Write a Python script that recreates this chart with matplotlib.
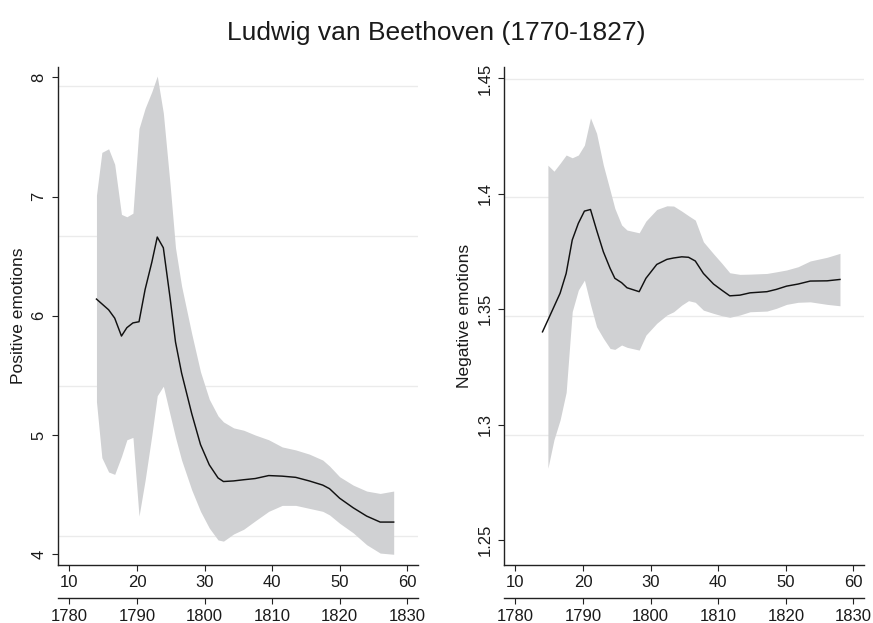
import numpy as np
import matplotlib
matplotlib.use("Agg")
import matplotlib.pyplot as plt

plt.rcParams['font.family'] = ['Liberation Sans', 'DejaVu Sans']

title = "Ludwig van Beethoven (1770-1827)"
birth_year = 1770

# ---- Positive emotions panel ----
pos_age = [14.0, 14.8, 15.8, 16.7, 17.7, 18.5, 19.4, 20.3, 21.2, 22.2, 23.0, 23.9,
           24.9, 25.7, 26.6, 28.1, 29.4, 30.7, 32.0, 32.8, 34.3, 35.8, 37.5, 39.5,
           41.5, 43.5, 45.5, 47.5, 48.5, 50.0, 52.0, 54.0, 56.0, 58.0]
pos_mean = [6.14, 6.10, 6.05, 5.98, 5.83, 5.90, 5.94, 5.95, 6.22, 6.45, 6.66, 6.57,
            6.15, 5.78, 5.52, 5.18, 4.92, 4.75, 4.64, 4.61, 4.615, 4.625, 4.635, 4.66,
            4.655, 4.645, 4.615, 4.58, 4.55, 4.47, 4.39, 4.32, 4.27, 4.27]
pos_upper = [7.01, 7.37, 7.40, 7.27, 6.85, 6.83, 6.86, 7.57, 7.74, 7.88, 8.01, 7.70,
             7.10, 6.57, 6.25, 5.85, 5.53, 5.30, 5.16, 5.11, 5.06, 5.04, 5.00, 4.96,
             4.90, 4.875, 4.84, 4.79, 4.74, 4.65, 4.58, 4.53, 4.51, 4.53]
pos_lower = [5.28, 4.81, 4.69, 4.67, 4.82, 4.96, 4.98, 4.32, 4.62, 5.00, 5.33, 5.41,
             5.17, 4.98, 4.79, 4.54, 4.36, 4.22, 4.12, 4.11, 4.17, 4.21, 4.28, 4.36,
             4.41, 4.41, 4.385, 4.36, 4.33, 4.26, 4.18, 4.08, 4.01, 4.00]
pos_yticks = [4, 5, 6, 7, 8]
pos_grid = [7.93, 6.673, 5.41, 4.15]

# ---- Negative emotions panel ----
neg_age = [14.0, 14.8, 15.7, 16.6, 17.5, 18.4, 19.3, 20.2, 21.1, 22.0, 23.0, 24.0,
           24.7, 25.7, 26.5, 28.3, 29.3, 30.9, 32.4, 33.4, 34.6, 35.6, 36.6, 37.8,
           39.3, 40.5, 41.7, 43.2, 44.7, 47.2, 48.6, 50.1, 51.8, 53.6, 56.1, 58.0]
neg_mean = [1.3402, 1.3453, 1.3511, 1.3569, 1.3655, 1.3800, 1.3872, 1.3925, 1.3932,
            1.3843, 1.3749, 1.3677, 1.3634, 1.3615, 1.3593, 1.3576, 1.3634, 1.3694,
            1.3716, 1.3722, 1.3727, 1.3725, 1.3709, 1.3655, 1.3609, 1.3583, 1.3558,
            1.3561, 1.3571, 1.3576, 1.3586, 1.3600, 1.3609, 1.3622, 1.3623, 1.3629]
neg_upper = [np.nan, 1.4124, 1.4098, 1.4132, 1.4168, 1.4156, 1.4168, 1.4211, 1.4329,
             1.4262, 1.4124, 1.4015, 1.3937, 1.3865, 1.3843, 1.3831, 1.3882, 1.3932,
             1.3948, 1.3947, 1.3925, 1.3905, 1.3886, 1.3792, 1.3740, 1.3700, 1.3658,
             1.3651, 1.3652, 1.3655, 1.3662, 1.3670, 1.3684, 1.3709, 1.3725, 1.3742]
neg_lower = [np.nan, 1.2811, 1.2935, 1.3020, 1.3140, 1.3490, 1.3583, 1.3626, 1.3520,
             1.3424, 1.3374, 1.3330, 1.3326, 1.3345, 1.3335, 1.3323, 1.3388, 1.3439,
             1.3475, 1.3489, 1.3518, 1.3537, 1.3530, 1.3496, 1.3482, 1.3472, 1.3465,
             1.3475, 1.3489, 1.3492, 1.3504, 1.3521, 1.3530, 1.3532, 1.3521, 1.3515]
neg_yticks = [1.25, 1.3, 1.35, 1.4, 1.45]
neg_yticklabels = ["1.25", "1.3", "1.35", "1.4", "1.45"]
neg_grid = [1.4497, 1.3987, 1.347, 1.2954]

age_ticks = [10, 20, 30, 40, 50, 60]
year_ticks = [1780, 1790, 1800, 1810, 1820, 1830]

W, H = 873, 623
fig = plt.figure(figsize=(W / 100, H / 100), dpi=100)

band_color = "#d0d1d3"
line_color = "#111111"
grid_color = "#ebebeb"
axis_color = "#222222"
text_color = "#1a1a1a"
tick_fs = 12
label_fs = 12.5


def make_panel(rect, age, mean, upper, lower, ylim, yticks, yticklabels, grid, ylabel):
    ax = fig.add_axes(rect)
    xlim = (8.35, 61.6)
    for g in grid:
        ax.axhline(g, color=grid_color, lw=1.0, zorder=0)
    ax.fill_between(age, np.array(lower, dtype=float), np.array(upper, dtype=float),
                    color=band_color, lw=0, zorder=1)
    ax.plot(age, mean, color=line_color, lw=1.05, zorder=2)
    ax.set_xlim(*xlim)
    ax.set_ylim(*ylim)
    ax.set_xticks(age_ticks)
    ax.set_yticks(yticks)
    ax.set_yticklabels(yticklabels, rotation=90, va='center')
    for s in ['top', 'right']:
        ax.spines[s].set_visible(False)
    for s in ['left', 'bottom']:
        ax.spines[s].set_color(axis_color)
        ax.spines[s].set_linewidth(1.0)
    ax.tick_params(axis='both', direction='out', length=4.5, width=0.8,
                   color=axis_color, labelsize=tick_fs, labelcolor=text_color)
    ax.tick_params(axis='y', pad=4)
    ax.tick_params(axis='x', pad=3)
    ax.set_ylabel(ylabel, fontsize=label_fs, color=text_color, labelpad=4)

    # year axis
    ay = ax.twiny()
    ay.set_xlim(xlim[0] + birth_year, xlim[1] + birth_year)
    ay.xaxis.set_ticks_position('bottom')
    ay.xaxis.set_label_position('bottom')
    ay.spines['bottom'].set_position(('outward', 24))
    for s in ['top', 'right', 'left']:
        ay.spines[s].set_visible(False)
    ay.spines['bottom'].set_color(axis_color)
    ay.spines['bottom'].set_linewidth(1.0)
    ay.set_xticks(year_ticks)
    ay.tick_params(axis='x', direction='out', length=4.5, width=0.8,
                   color=axis_color, labelsize=tick_fs, labelcolor=text_color, pad=3)
    ay.patch.set_visible(False)
    return ax


make_panel([58.3 / W, 1 - 565 / H, (418 - 58.3) / W, (565 - 67) / H],
           pos_age, pos_mean, pos_upper, pos_lower, (3.91, 8.086),
           pos_yticks, [str(t) for t in pos_yticks], pos_grid, "Positive emotions")
make_panel([504.3 / W, 1 - 565 / H, (864.3 - 504.3) / W, (565 - 67.3) / H],
           neg_age, neg_mean, neg_upper, neg_lower, (1.2392, 1.4548),
           neg_yticks, neg_yticklabels, neg_grid, "Negative emotions")

fig.text(0.5, 1 - 33 / H, title, ha='center', va='center', fontsize=19, color=text_color)

fig.savefig("out.png", dpi=100)
